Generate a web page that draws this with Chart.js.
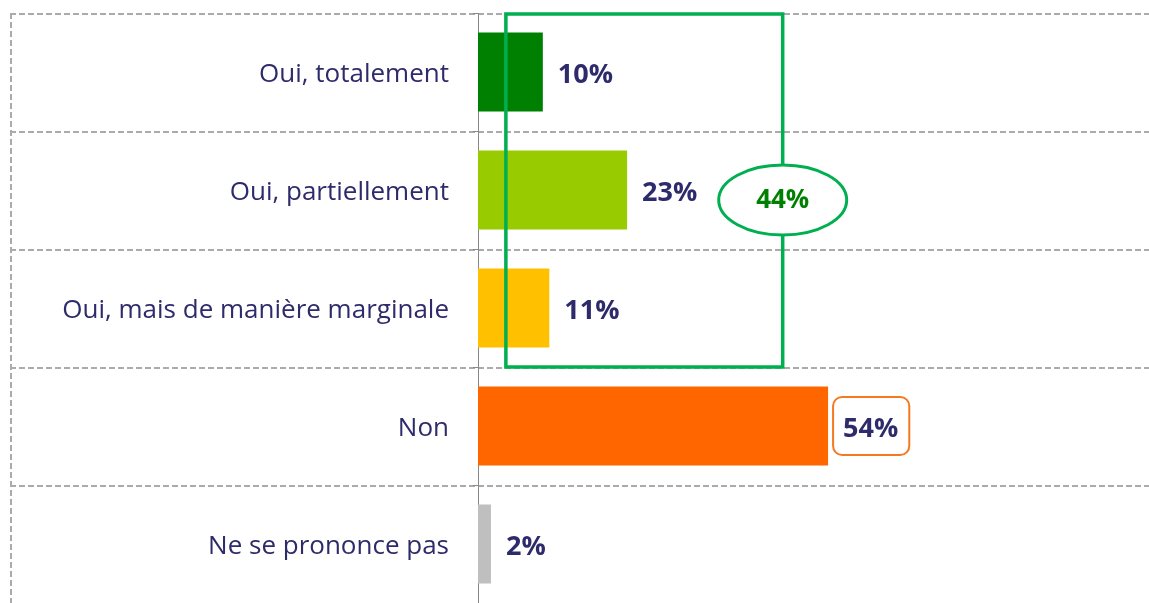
<!DOCTYPE html>
<html lang="fr">
<head>
<meta charset="UTF-8">
<title>Graphique</title>
<script src="https://cdn.jsdelivr.net/npm/chart.js"></script>
<style>
  html, body { margin: 0; padding: 0; background: #fff; }
  #wrap { width: 1149px; height: 603px; }
</style>
</head>
<body>
<div id="wrap"><canvas id="grafico"></canvas></div>
<script>
const categories = ['Oui, totalement', 'Oui, partiellement', 'Oui, mais de manière marginale', 'Non', 'Ne se prononce pas'];
const values = [10, 23, 11, 54, 2];
const barColors = ['#008000', '#99CC00', '#FFC000', '#FF6600', '#BFBFBF'];
// les trois "Oui" regroupés
const groupRange = [4.3, 47];
const groupCount = 3;
const groupLabel = '44%';
const boxedIndex = 3;

const textColor = '#2E2B6B';

const habillage = {
  id: 'habillage',
  beforeDraw(chart) {
    const ctx = chart.ctx;
    const y = chart.scales.y;
    const area = chart.chartArea;
    ctx.save();
    ctx.strokeStyle = '#ababab';
    ctx.lineWidth = 2;
    ctx.setLineDash([6, 3]);
    for (let i = 0; i < categories.length; i++) {
      const py = Math.round(y.getPixelForValue(i - 0.5)) + 1;
      ctx.beginPath();
      ctx.moveTo(10, py);
      ctx.lineTo(area.right, py);
      ctx.stroke();
    }
    ctx.beginPath();
    ctx.moveTo(11, area.top);
    ctx.lineTo(11, area.bottom);
    ctx.stroke();
    ctx.restore();
  },
  afterDatasetsDraw(chart) {
    const ctx = chart.ctx;
    const x = chart.scales.x;
    const y = chart.scales.y;
    const bars = chart.getDatasetMeta(0).data;
    ctx.save();
    ctx.font = 'bold 27px "Open Sans"';
    ctx.textBaseline = 'middle';
    ctx.textAlign = 'left';
    bars.forEach((bar, i) => {
      const txt = values[i] + '%';
      const tx = bar.x + 15;
      if (i === boxedIndex) {
        const w = ctx.measureText(txt).width;
        ctx.beginPath();
        ctx.roundRect(bar.x + 5, bar.y - 29, w + 21, 58, 9);
        ctx.fillStyle = '#fff';
        ctx.fill();
        ctx.lineWidth = 2;
        ctx.strokeStyle = '#F47920';
        ctx.stroke();
      }
      ctx.fillStyle = textColor;
      ctx.fillText(txt, tx, bar.y + 3);
    });

    // cadre vert
    const left = x.getPixelForValue(groupRange[0]);
    const right = x.getPixelForValue(groupRange[1]);
    const top = chart.chartArea.top + 1;
    const bottom = y.getPixelForValue(groupCount - 0.5);
    ctx.lineWidth = 3.5;
    ctx.strokeStyle = '#00B050';
    ctx.strokeRect(left, top, right - left, bottom - top);

    const cy = y.getPixelForValue(1) + 10;
    ctx.beginPath();
    ctx.ellipse(right, cy, 64, 35, 0, 0, Math.PI * 2);
    ctx.fillStyle = '#fff';
    ctx.fill();
    ctx.lineWidth = 3;
    ctx.stroke();
    ctx.fillStyle = '#008000';
    ctx.textAlign = 'center';
    ctx.font = 'bold 26px "Open Sans"';
    ctx.fillText(groupLabel, right, cy + 1);
    ctx.restore();
  }
};

new Chart(document.getElementById('grafico'), {
  type: 'bar',
  data: {
    labels: categories,
    datasets: [{
      data: values,
      backgroundColor: barColors,
      barPercentage: 0.67,
      categoryPercentage: 1
    }]
  },
  options: {
    indexAxis: 'y',
    responsive: true,
    maintainAspectRatio: false,
    animation: false,
    layout: { padding: { top: 13, bottom: 0, left: 0, right: 0 } },
    plugins: { legend: { display: false }, tooltip: { enabled: false } },
    scales: {
      x: { display: false, min: 0, max: 103.5 },
      y: {
        afterFit(scale) {
          scale.width = 478;
          scale.paddingTop = 0;
          scale.paddingBottom = 0;
        },
        grid: { drawOnChartArea: false, drawTicks: true, tickLength: 5, tickColor: '#888', tickWidth: 1 },
        border: { display: true, color: '#888', width: 1 },
        ticks: {
          color: textColor,
          padding: 24,
          labelOffset: 3,
          font: { family: 'Open Sans', size: 26 }
        }
      }
    }
  },
  plugins: [habillage]
});
</script>
</body>
</html>
